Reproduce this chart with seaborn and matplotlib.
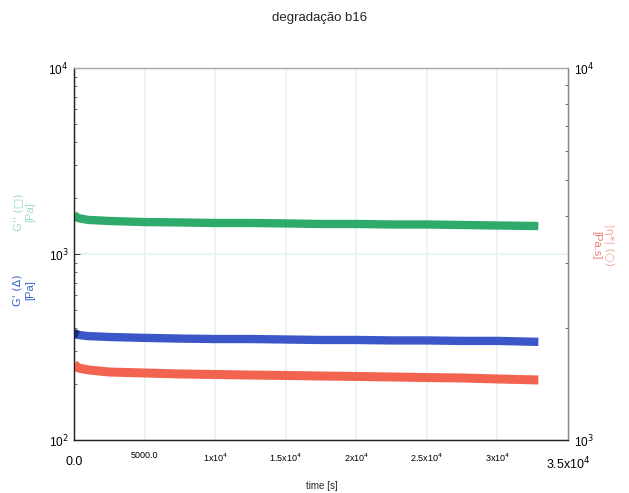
import matplotlib
matplotlib.use("Agg")
import matplotlib.pyplot as plt
import seaborn as sns
import pandas as pd
from matplotlib.ticker import FixedLocator, NullFormatter, LogLocator

sns.set_style("white")
plt.rcParams['font.family'] = ['Liberation Sans', 'DejaVu Sans']

title = "degradação b16"
time_s = [0, 300, 1000, 2500, 5000, 7500, 10000, 12500, 15000, 17500,
          20000, 22500, 25000, 27500, 30000, 32900]
g_dd = [1620, 1560, 1525, 1505, 1485, 1478, 1468, 1468, 1460, 1450,
        1450, 1441, 1441, 1432, 1423, 1414]          # G'' [Pa]
g_d = [376, 367, 362, 358, 354, 351, 349, 349, 347, 345,
       345, 343, 343, 341, 341, 337]                 # G' [Pa]
eta = [1600, 1562, 1543, 1523, 1514, 1505, 1500, 1495, 1491, 1486,
       1482, 1477, 1472, 1468, 1459, 1450]           # |eta*| [Pa.s]
x_ticks = [0, 5000, 10000, 15000, 20000, 25000, 30000, 35000]
x_labels = ["0.0", "5000.0", "1x10$^4$", "1.5x10$^4$", "2x10$^4$",
            "2.5x10$^4$", "3x10$^4$", "3.5x10$^4$"]

df = pd.DataFrame({"time": time_s, "Gdd": g_dd, "Gd": g_d, "eta": eta})

fig = plt.figure(figsize=(6.29, 4.93), dpi=100)
ax = fig.add_axes([74/629, 1-440/493, (568-74)/629, (440-68)/493])
ax2 = ax.twinx()

c_green = "#2eaa6a"
c_blue = "#3a56c8"
c_red = "#f26450"

sns.lineplot(data=df, x="time", y="Gdd", ax=ax, color=c_green, lw=6,
             solid_capstyle="butt", legend=False)
sns.lineplot(data=df, x="time", y="Gd", ax=ax, color=c_blue, lw=6,
             solid_capstyle="butt", legend=False)
sns.lineplot(data=df.iloc[:2], x="time", y="Gd", ax=ax, color="#1c2a80", lw=6,
             solid_capstyle="butt", legend=False)
sns.lineplot(data=df, x="time", y="eta", ax=ax2, color=c_red, lw=6.5,
             solid_capstyle="butt", legend=False)

ax.set_yscale("log")
ax2.set_yscale("log")
ax.set_ylim(100, 10000)
ax2.set_ylim(1000, 10000)
ax.set_xlim(0, 35000)

# grid lines
for xv in x_ticks[1:-1]:
    ax.axvline(xv, color="#e3f5f4", lw=1.2, zorder=0)
ax.axhline(1000, color="#e3f5f4", lw=1.2, zorder=0)

ax.set_xticks(x_ticks)
ax.set_xticklabels(x_labels)
for i, lab in enumerate(ax.get_xticklabels()):
    if i in (0, len(x_ticks) - 1):
        lab.set_fontsize(9)
        lab.set_y(-0.012)
    else:
        lab.set_fontsize(6.5)
ax.xaxis.set_minor_locator(FixedLocator([v for v in range(0, 35001, 1250)]))

ax.set_yticks([100, 1000, 10000])
ax.set_yticklabels(["10$^2$", "10$^3$", "10$^4$"], fontsize=8.5)
ax.yaxis.set_minor_locator(LogLocator(base=10, subs=range(2, 10)))
ax.yaxis.set_minor_formatter(NullFormatter())
ax2.set_yticks([1000, 10000])
ax2.set_yticklabels(["10$^3$", "10$^4$"], fontsize=8.5)
ax2.yaxis.set_minor_locator(LogLocator(base=10, subs=range(2, 10)))
ax2.yaxis.set_minor_formatter(NullFormatter())

for a in (ax, ax2):
    a.tick_params(which="major", direction="in", length=4, width=0.7,
                  colors="#333333", labelcolor="black", pad=4)
    a.tick_params(which="minor", direction="in", length=2.5, width=0.6,
                  colors="#555555")
ax.tick_params(axis="x", which="major", pad=8)

ax.set_xlabel("")
ax.set_ylabel("")
ax2.set_ylabel("")

for a in (ax, ax2):
    a.spines["left"].set_color("#222222")
    a.spines["bottom"].set_color("#222222")
    a.spines["right"].set_color("#888888")
    a.spines["top"].set_color("#aaaaaa")
    for s in a.spines.values():
        s.set_linewidth(0.9)
        s.set_visible(True)

fig.text(320/629, 1-18/493, title, ha="center", va="center", fontsize=9.5)
fig.text(322/629, 1-486/493, "time [s]", ha="center", va="center", fontsize=7)

fig.text(18/629, 1-212/493, "G'' (□)", rotation=90, ha="center", va="center",
         fontsize=8, color="#9cdcbc", family=["DejaVu Sans"])
fig.text(30/629, 1-212/493, "[Pa]", rotation=90, ha="center", va="center",
         fontsize=8, color="#9cdcbc")
fig.text(18/629, 1-290/493, "G' (Δ)", rotation=90, ha="center", va="center",
         fontsize=8, color="#3a66cc", family=["DejaVu Sans"])
fig.text(30/629, 1-290/493, "[Pa]", rotation=90, ha="center", va="center",
         fontsize=8, color="#3a66cc")
fig.text(609/629, 1-245/493, "|η*| (○)", rotation=-90, ha="center", va="center",
         fontsize=8, color="#f3a595", family=["DejaVu Sans"])
fig.text(596/629, 1-245/493, "[Pa.s]", rotation=-90, ha="center", va="center",
         fontsize=8, color="#e88070")

fig.savefig("out.png", dpi=100)
